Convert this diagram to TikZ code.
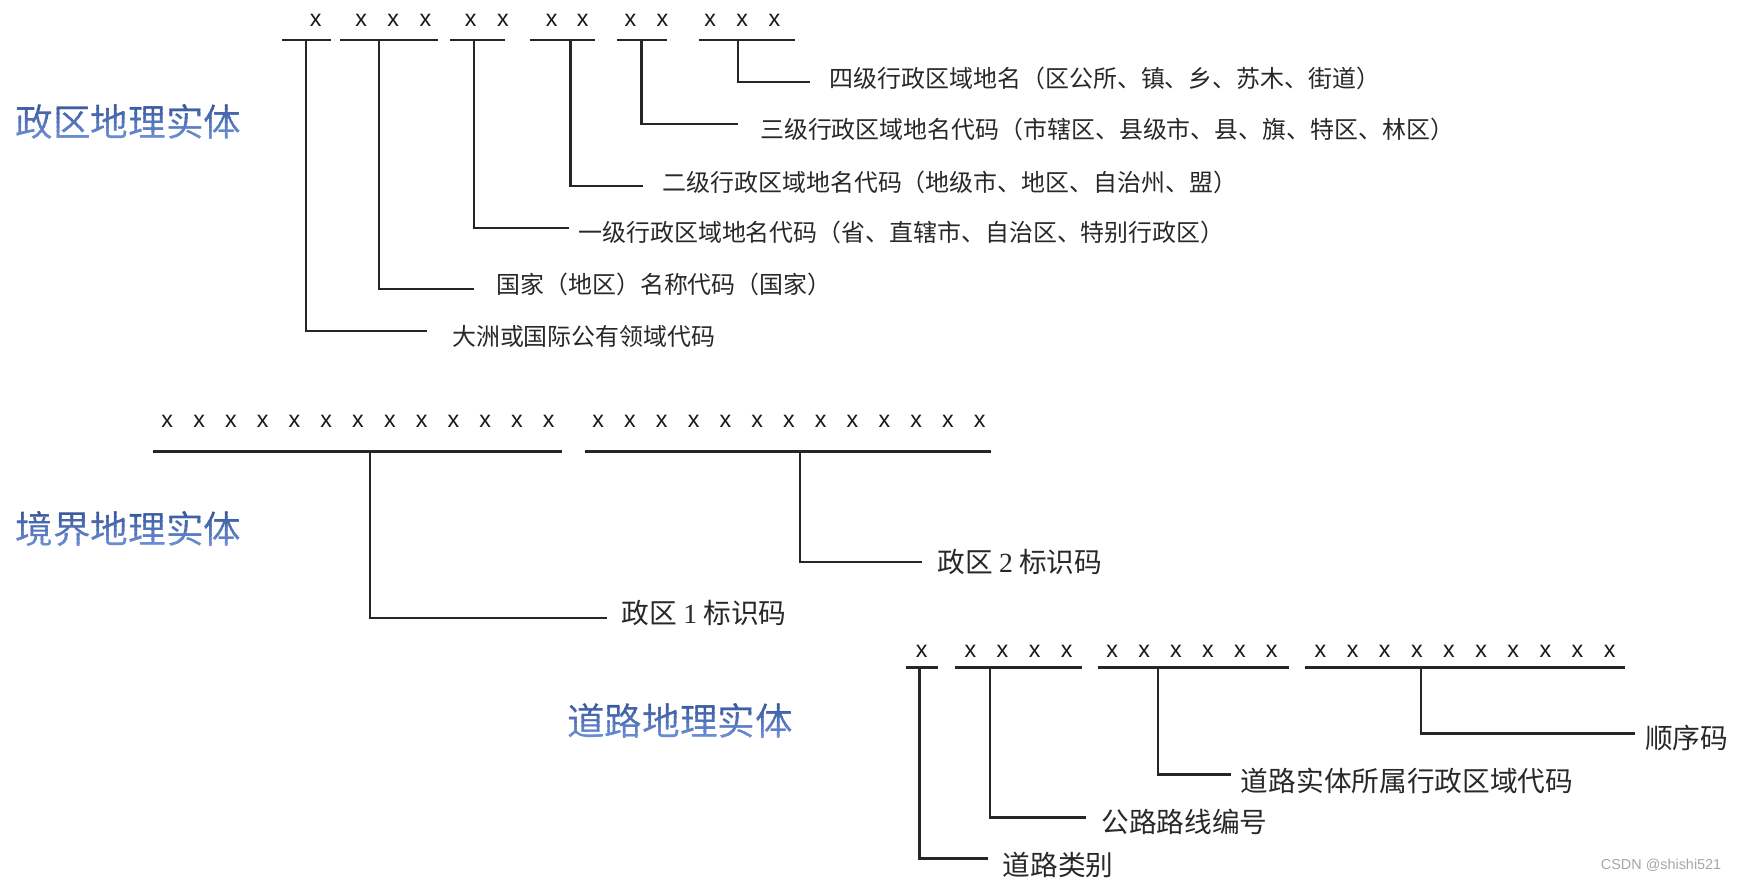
\documentclass[tikz,border=0pt]{standalone}
\usepackage{fontspec}
\setmainfont{Liberation Serif}
\newfontfamily\cjk{Noto Sans CJK SC}
\newfontfamily\xfont{Liberation Sans}
\definecolor{titletop}{RGB}{45,75,145}
\definecolor{titlebot}{RGB}{120,155,225}
\definecolor{labgray}{RGB}{40,40,40}
\tikzset{
  line/.style={line width=2.1pt, draw=black!85},
  xmark/.style={inner sep=0pt, font=\xfont\fontsize{21}{21}\selectfont, text=black!90},
  labA/.style={anchor=west, inner sep=0pt, text=labgray, font=\cjk\fontsize{21.6}{24}\selectfont},
  labB/.style={anchor=west, inner sep=0pt, text=labgray, font=\cjk\fontsize{25}{28}\selectfont},
  title/.style={inner sep=0pt, font=\cjk\fontsize{34}{38}\selectfont},
  wmark/.style={anchor=west, inner sep=0pt, text=black!35, font=\xfont\fontsize{13}{14}\selectfont}
}
\begin{document}
\begin{tikzpicture}[x=1pt,y=-1pt]
\useasboundingbox (0,0) rectangle (1568,794);

% ---------- titles (vertical colour gradient by bands) ----------
\foreach \tx/\ty/\tt/\tn in {116/110/政区地理实体/t1, 116/478/境界地理实体/t2, 614/651/道路地理实体/t3}{
  \foreach \k in {0,...,11}{
    \pgfmathsetmacro\mix{100-\k*9}
    \begin{scope}
      \clip ({\tx-130},{\ty-24+\k*4}) rectangle ({\tx+130},{\ty-19+\k*4});
      \node[title, text=titletop!\mix!titlebot] (\tn-\k) at (\tx,\ty) {\tt};
    \end{scope}
  }
}

% ---------- section 1 ----------
\foreach \x [count=\i] in {285,326,355,384,425,454,498,526,569,598,641,670,699}
  \node[xmark] (ax\i) at (\x,18) {x};
\draw[line] (255,36) -- (299,36);
\draw[line] (307,36) -- (395,36);
\draw[line] (406,36) -- (456,36);
\draw[line] (478,36) -- (537,36);
\draw[line] (557,36) -- (602,36);
\draw[line] (631,36) -- (718,36);

\coordinate (ad1) at (276,36);  \coordinate (ae1) at (385,299);
\coordinate (ad2) at (342,36);  \coordinate (ae2) at (428,261);
\coordinate (ad3) at (428,36);  \coordinate (ae3) at (514,206);
\coordinate (ad4) at (515,36);  \coordinate (ae4) at (580,168);
\coordinate (ad5) at (579,36);  \coordinate (ae5) at (666,112);
\coordinate (ad6) at (666,36);  \coordinate (ae6) at (731,74);

\node[labA] (al1) at (408,304) {大洲或国际公有领域代码};
\node[labA] (al2) at (448,257) {国家（地区）名称代码（国家）};
\node[labA] (al3) at (522,210) {一级行政区域地名代码（省、直辖市、自治区、特别行政区）};
\node[labA] (al4) at (598,165) {二级行政区域地名代码（地级市、地区、自治州、盟）};
\node[labA] (al5) at (686,117) {三级行政区域地名代码（市辖区、县级市、县、旗、特区、林区）};
\node[labA] (al6) at (749,71) {四级行政区域地名（区公所、镇、乡、苏木、街道）};

\foreach \i in {1,...,6}
  \draw[line] (ad\i) |- (ae\i);

% ---------- section 2 ----------
\foreach \i in {0,...,12}{
  \node[xmark] (bl\i) at ({151+28.7*\i},380) {x};
  \node[xmark] (br\i) at ({540+28.7*\i},380) {x};
}
\draw[line] (138,407.5) -- (507,407.5);
\draw[line] (528,407.5) -- (895,407.5);

\coordinate (bd1) at (334,407.5); \coordinate (be1) at (548,558);
\coordinate (bd2) at (722,407.5); \coordinate (be2) at (832,507.5);
\node[labB] (bl1lab) at (561,553) {政区 {\rmfamily 1} 标识码};
\node[labB] (bl2lab) at (846,507) {政区 {\rmfamily 2} 标识码};
\draw[line] (bd1) |- (be1);
\draw[line] (bd2) |- (be2);

% ---------- section 3 ----------
\node[xmark] (cx0) at (832,588) {x};
\foreach \i in {0,...,3}
  \node[xmark] (cxa\i) at ({876+29*\i},588) {x};
\foreach \i in {0,...,5}
  \node[xmark] (cxb\i) at ({1004+28.8*\i},588) {x};
\foreach \i in {0,...,9}
  \node[xmark] (cxc\i) at ({1192+29*\i},588) {x};
\draw[line] (818,602.5) -- (847,602.5);
\draw[line] (862,602.5) -- (977,602.5);
\draw[line] (991,602.5) -- (1164,602.5);
\draw[line] (1178,602.5) -- (1467,602.5);

\coordinate (cd1) at (830,602.5);    \coordinate (ce1) at (892,775);
\coordinate (cd2) at (893.5,602.5);  \coordinate (ce2) at (980,738);
\coordinate (cd3) at (1045.5,602.5); \coordinate (ce3) at (1111,699);
\coordinate (cd4) at (1283,602.5);   \coordinate (ce4) at (1476,662);

\node[labB] (cl1) at (905,781) {道路类别};
\node[labB] (cl2) at (994,742) {公路路线编号};
\node[labB] (cl3) at (1120,705) {道路实体所属行政区域代码};
\node[labB] (cl4) at (1485,666) {顺序码};

\foreach \i in {1,...,4}
  \draw[line] (cd\i) |- (ce\i);

% ---------- watermark ----------
\node[wmark] (wm) at (1445,781) {CSDN @shishi521};
\end{tikzpicture}
\end{document}
